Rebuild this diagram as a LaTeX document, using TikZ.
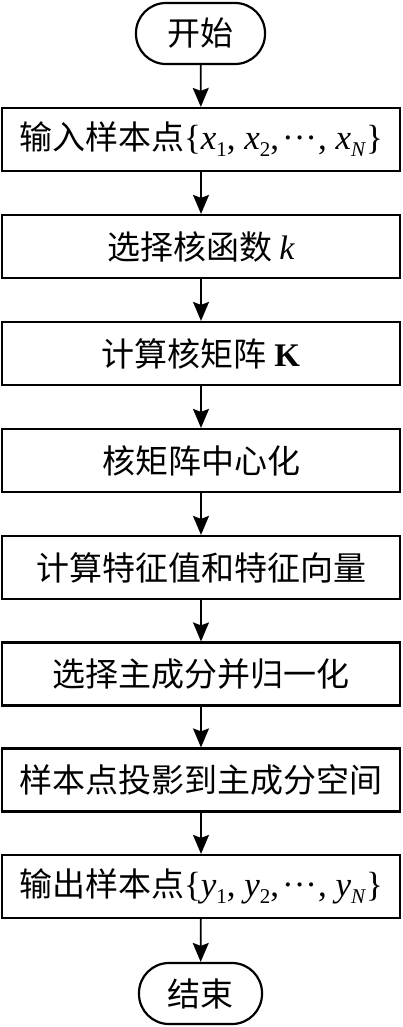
\documentclass[tikz,border=0pt]{standalone}
\usepackage{fontspec}
\setmainfont{Liberation Serif}
\newfontfamily\cjk{Noto Sans CJK SC}
\usetikzlibrary{arrows.meta}
\newcommand{\mvar}[2]{\textit{#1}\raisebox{-0.2em}{\fontsize{21}{21}\selectfont #2}}
\newcommand{\mseq}[1]{{\rmfamily\fontsize{35}{40}\selectfont #1}}
\newcommand{\mdots}{\kern3pt·\kern0pt·\kern0pt·\kern1pt}
\begin{document}
\begin{tikzpicture}[x=1pt,y=-1pt,
  box/.style={draw,line width=2.2pt,minimum width=398pt,minimum height=63pt,inner sep=0pt,
    font=\fontsize{33}{38}\selectfont\cjk},
  term/.style={draw,line width=2.2pt,rounded corners=30pt,minimum height=61pt,inner sep=0pt,
    font=\fontsize{33}{38}\selectfont\cjk},
  flow/.style={line width=1.8pt,-{Stealth[length=19pt,width=16pt,inset=3pt]}}]
\useasboundingbox (0,0) rectangle (402,1027);
\node[term,minimum width=129pt] (s) at (200.5,33.5) {开始};
\node[box] (b1) at (201,139.5) {输入样本点\mseq{\{\mvar{x}{1}, \mvar{x}{2},\mdots, \mvar{x}{\textit{N}}\}}};
\node[box] (b2) at (201,246.5) {选择核函数 {\rmfamily\fontsize{34}{38}\selectfont\textit{k}}};
\node[box] (b3) at (201,353.5) {计算核矩阵 {\rmfamily\fontsize{33}{38}\selectfont\textbf{K}}};
\node[box] (b4) at (201,460.5) {核矩阵中心化};
\node[box] (b5) at (201,567.5) {计算特征值和特征向量};
\node[box] (b6) at (201,674) {选择主成分并归一化};
\node[box] (b7) at (201,780) {样本点投影到主成分空间};
\node[box] (b8) at (201,886.5) {输出样本点\mseq{\{\mvar{y}{1}, \mvar{y}{2},\mdots, \mvar{y}{\textit{N}}\}}};
\node[term,minimum width=123pt] (e) at (200.5,993.5) {结束};
\foreach \a/\b in {s/b1,b1/b2,b2/b3,b3/b4,b4/b5,b5/b6,b6/b7,b7/b8,b8/e}
  \draw[flow] (\a) -- (\b);
\end{tikzpicture}
\end{document}
